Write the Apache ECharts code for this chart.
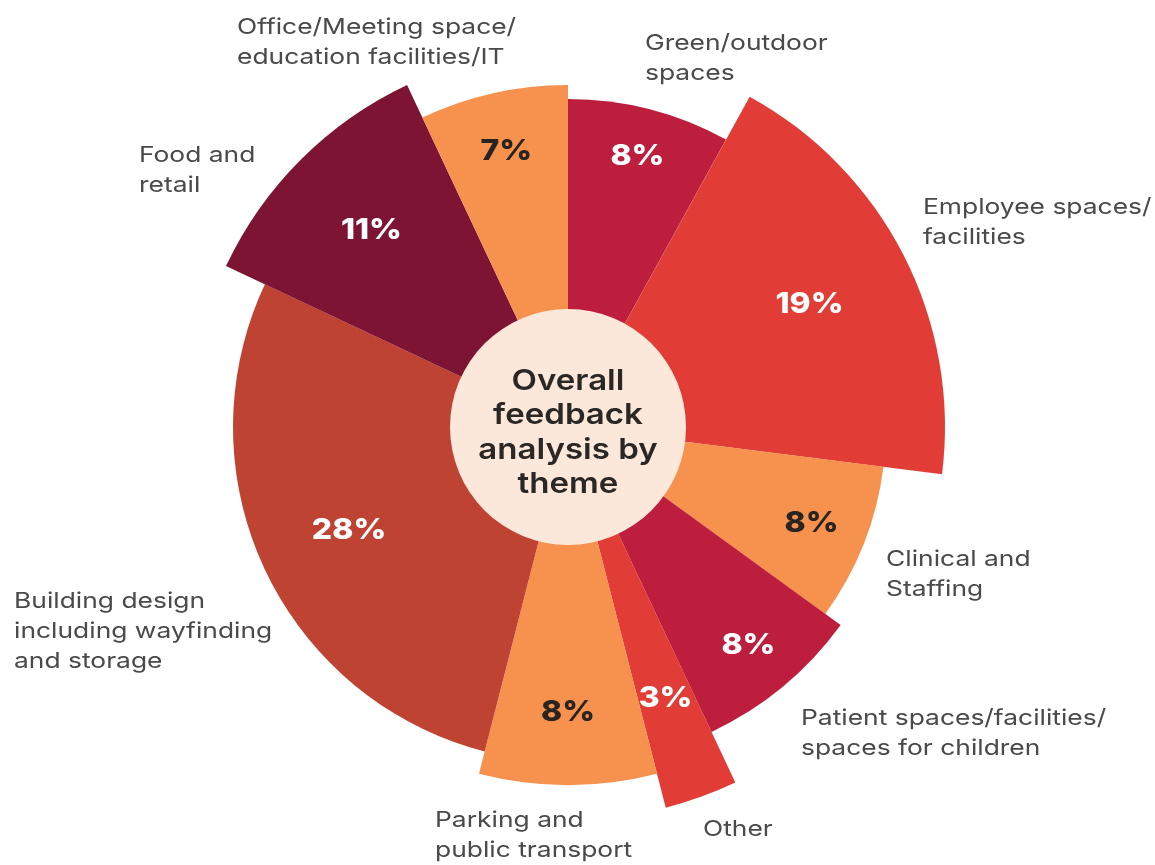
<!DOCTYPE html>
<html>
<head>
<meta charset="utf-8">
<title>Overall feedback analysis by theme</title>
<script src="https://cdn.jsdelivr.net/npm/echarts@6/dist/echarts.min.js"></script>
<style>
  html, body { margin: 0; padding: 0; background: #ffffff; }
  #chart { width: 1155px; height: 865px; }
</style>
</head>
<body>
<div id="chart"></div>
<script>
// Themes, clockwise from twelve o'clock
const categories = [
  'Green/outdoor\nspaces',
  'Employee spaces/\nfacilities',
  'Clinical and\nStaffing',
  'Patient spaces/facilities/\nspaces for children',
  'Other',
  'Parking and\npublic transport',
  'Building design\nincluding wayfinding\nand storage',
  'Food and\nretail',
  'Office/Meeting space/\neducation facilities/IT'
];
// Share of feedback per theme (%)
const shares = [8, 19, 8, 8, 3, 8, 28, 11, 7];
const centerTitle = 'Overall\nfeedback\nanalysis by\ntheme';

// Styling: slice colours, outer reach of each petal (px), label placement
const CRIMSON = '#BD1E3E', RED = '#E13D36', ORANGE = '#F7914E', RUST = '#BF4333', MAROON = '#7D1434';
const sliceColors = [CRIMSON, RED, ORANGE, CRIMSON, RED, ORANGE, RUST, MAROON, ORANGE];
const darkText = [false, false, true, false, false, true, false, false, true];
const petalReach = [328, 377, 318, 337, 393, 358, 335, 378, 342];
const valueLabelReach = [279, 271, 262, 283, 288, 285, 242, 278, 283];
const themeLabelPos = [
  [645, 28], [923, 192], [886, 544], [801, 703], [703, 814],
  [435, 805], [14, 586], [139, 140], [237, 12]
];
const WIDE = 1.2; // horizontal stretch for the wide geometric lettering

const CX = 568, CY = 427, HOLE = 118;

// cumulative start/end of every slice on the angle axis
let acc = 0;
const sliceData = shares.map((v, i) => {
  const item = [acc, acc + v, petalReach[i], valueLabelReach[i], i];
  acc += v;
  return item;
});

const chart = echarts.init(document.getElementById('chart'), null, { renderer: 'canvas' });

function renderPetal(params, api) {
  const cs = params.coordSys;
  const start = api.value(0), end = api.value(1);
  const reach = api.value(2), labelR = api.value(3), idx = api.value(4);
  const p0 = api.coord([reach, start]);
  const p1 = api.coord([reach, end]);
  const r = Math.hypot(p0[0] - cs.cx, p0[1] - cs.cy);
  let a0 = Math.atan2(p0[1] - cs.cy, p0[0] - cs.cx);
  let a1 = Math.atan2(p1[1] - cs.cy, p1[0] - cs.cx);
  if (a1 <= a0) a1 += Math.PI * 2;
  const lp = api.coord([labelR, (start + end) / 2]);
  return {
    type: 'group',
    children: [
      {
        type: 'sector',
        shape: { cx: cs.cx, cy: cs.cy, r0: 0, r: r, startAngle: a0, endAngle: a1, clockwise: true },
        style: { fill: sliceColors[idx] }
      },
      {
        type: 'text',
        x: lp[0], y: lp[1],
        scaleX: 1.1,
        z2: 10,
        style: {
          text: shares[idx] + '%',
          fill: darkText[idx] ? '#2A2420' : '#FFFFFF',
          font: '800 29px Inter, "DejaVu Sans", sans-serif',
          align: 'center',
          verticalAlign: 'middle'
        }
      }
    ]
  };
}

const themeLabels = categories.map((name, i) => ({
  type: 'text',
  x: themeLabelPos[i][0],
  y: themeLabelPos[i][1],
  scaleX: WIDE,
  silent: true,
  style: {
    text: name,
    fill: '#4A4A4A',
    font: '400 22px Inter, "DejaVu Sans", sans-serif',
    lineHeight: 30,
    align: 'left',
    verticalAlign: 'top'
  }
}));

const option = {
  backgroundColor: '#ffffff',
  animation: false,
  polar: { center: [CX, CY], radius: [0, 400] },
  angleAxis: { type: 'value', min: 0, max: 100, startAngle: 90, clockwise: true, show: false },
  radiusAxis: { type: 'value', min: 0, max: 400, show: false },
  series: [
    {
      type: 'custom',
      coordinateSystem: 'polar',
      silent: true,
      renderItem: renderPetal,
      data: sliceData,
      z: 1
    },
    {
      type: 'pie',
      silent: true,
      center: [CX, CY],
      radius: [0, HOLE],
      z: 5,
      itemStyle: { color: '#FCE8DA' },
      label: { show: false },
      labelLine: { show: false },
      data: [{ value: 1, name: 'hub' }]
    }
  ],
  graphic: themeLabels.concat([{
    type: 'text',
    x: CX,
    y: CY + 6,
    scaleX: 1.14,
    z: 100,
    silent: true,
    style: {
      text: centerTitle,
      fill: '#2B2724',
      font: '600 29px Inter, "DejaVu Sans", sans-serif',
      lineHeight: 34.5,
      align: 'center',
      verticalAlign: 'middle'
    }
  }])
};

chart.setOption(option);
</script>
</body>
</html>
